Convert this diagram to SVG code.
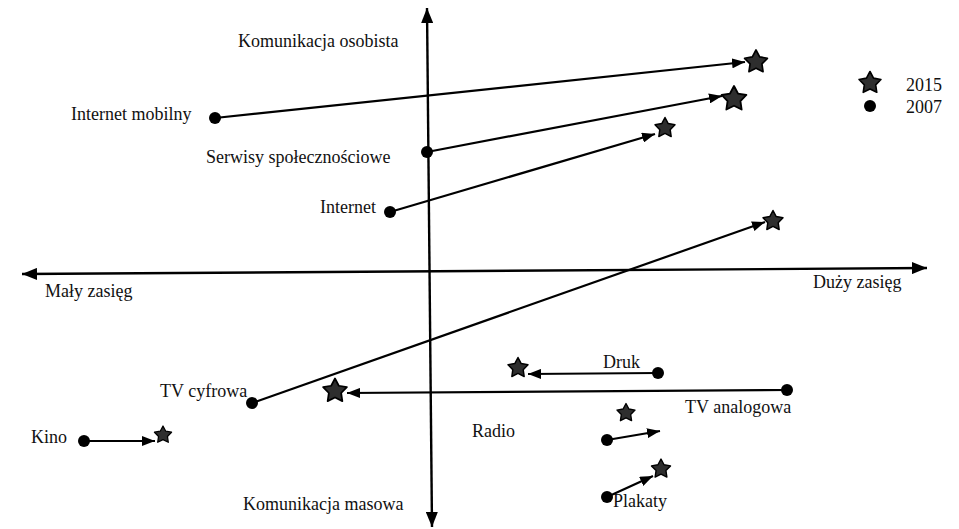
<svg xmlns="http://www.w3.org/2000/svg" width="959" height="529" viewBox="0 0 959 529">
  <style>
    text { font-family: "Liberation Serif", "Times New Roman", serif; font-size: 18px; fill: #111; }
    .axis { stroke: #000; stroke-width: 2.4; fill: none; }
    .conn { stroke: #000; stroke-width: 2.2; fill: none; marker-end: url(#arrow); }
    .dot { fill: #000; }
    .star { fill: #2e2e2e; stroke: #000; stroke-width: 1.4; stroke-linejoin: round; }
  </style>
  <defs>
    <marker id="arrow" markerUnits="userSpaceOnUse" markerWidth="14" markerHeight="10" refX="13" refY="5" orient="auto">
      <path d="M0,0 L13,5 L0,10 Z" fill="#000"/>
    </marker>
    <marker id="axisEnd" markerUnits="userSpaceOnUse" markerWidth="16" markerHeight="12" refX="15" refY="6" orient="auto-start-reverse">
      <path d="M0,0 L15,6 L0,12 Z" fill="#000"/>
    </marker>
    <path id="starShape" class="star" d="M0,-10 L3.06,-4.21 L9.51,-3.09 L4.94,1.61 L5.88,8.09 L0,5.2 L-5.88,8.09 L-4.94,1.61 L-9.51,-3.09 L-3.06,-4.21 Z"/>
  </defs>

  <rect width="959" height="529" fill="#fff"/>

  <!-- axes -->
  <g id="axes">
    <line class="axis" x1="22" y1="274" x2="927" y2="268" marker-start="url(#axisEnd)" marker-end="url(#axisEnd)"/>
    <line class="axis" x1="427" y1="8" x2="432" y2="527" marker-start="url(#axisEnd)" marker-end="url(#axisEnd)"/>
    <text x="238" y="47">Komunikacja osobista</text>
    <text x="243" y="510">Komunikacja masowa</text>
    <text x="45" y="297">Mały zasięg</text>
    <text x="813" y="288">Duży zasięg</text>
  </g>

  <!-- connectors: 2007 position to 2015 position -->
  <g id="connectors">
    <line class="conn" x1="215" y1="118" x2="745" y2="62"/>
    <line class="conn" x1="427" y1="152" x2="722" y2="96"/>
    <line class="conn" x1="390" y1="212" x2="655" y2="134"/>
    <line class="conn" x1="252" y1="403" x2="765" y2="222"/>
    <line class="conn" x1="84" y1="441" x2="155" y2="441"/>
    <line class="conn" x1="658" y1="373" x2="528" y2="374"/>
    <line class="conn" x1="787" y1="390" x2="347" y2="393"/>
    <line class="conn" x1="607" y1="440" x2="660" y2="431"/>
    <line class="conn" x1="607" y1="497" x2="653" y2="476"/>
  </g>

  <g id="internet-mobilny">
    <circle class="dot" cx="215" cy="118" r="6"/>
    <use href="#starShape" transform="translate(756,62) scale(1.2)"/>
    <text x="71" y="120">Internet mobilny</text>
  </g>

  <g id="serwisy">
    <circle class="dot" cx="427" cy="152" r="6"/>
    <use href="#starShape" transform="translate(734,99) scale(1.3)"/>
    <text x="206" y="163">Serwisy społecznościowe</text>
  </g>

  <g id="internet">
    <circle class="dot" cx="390" cy="212" r="6"/>
    <use href="#starShape" transform="translate(665,128) scale(1.05)"/>
    <text x="320" y="213">Internet</text>
  </g>

  <g id="tv-cyfrowa">
    <circle class="dot" cx="252" cy="403" r="6"/>
    <use href="#starShape" transform="translate(773,221) scale(1.05)"/>
    <text x="160" y="397">TV cyfrowa</text>
  </g>

  <g id="kino">
    <circle class="dot" cx="84" cy="441" r="6"/>
    <use href="#starShape" transform="translate(163,435) scale(0.9)"/>
    <text x="31" y="443">Kino</text>
  </g>

  <g id="druk">
    <circle class="dot" cx="658" cy="373" r="6"/>
    <use href="#starShape" transform="translate(518,368) scale(1.05)"/>
    <text x="603" y="368">Druk</text>
  </g>

  <g id="tv-analogowa">
    <circle class="dot" cx="787" cy="390" r="6"/>
    <use href="#starShape" transform="translate(335,391) scale(1.25)"/>
    <text x="685" y="413">TV analogowa</text>
  </g>

  <g id="radio">
    <circle class="dot" cx="607" cy="440" r="6"/>
    <use href="#starShape" transform="translate(626,413) scale(0.95)"/>
    <text x="472" y="437">Radio</text>
  </g>

  <g id="plakaty">
    <circle class="dot" cx="607" cy="497" r="6"/>
    <use href="#starShape" transform="translate(661,469) scale(1.0)"/>
    <text x="613" y="507">Plakaty</text>
  </g>

  <g id="legend">
    <use href="#starShape" transform="translate(870,83) scale(1.15)"/>
    <text x="906" y="91">2015</text>
    <circle class="dot" cx="870" cy="106" r="6"/>
    <text x="906" y="113">2007</text>
  </g>
</svg>
